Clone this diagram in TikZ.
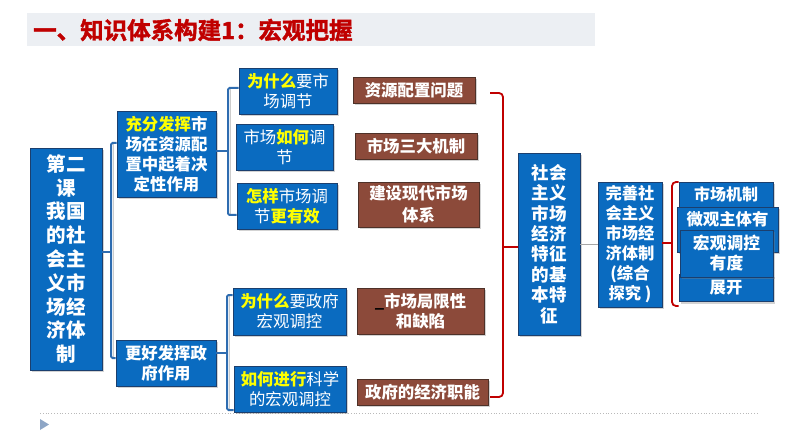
\documentclass[tikz,border=0pt]{standalone}
\usepackage{fontspec}
\usetikzlibrary{shadows}
\newfontfamily\cjk{Noto Sans CJK SC}
\newfontfamily\titlefont[FakeBold=1.6]{Noto Sans CJK SC Bold}
\definecolor{boxblue}{HTML}{0A6BC0}
\definecolor{boxline}{HTML}{1B3F6E}
\definecolor{boxbrown}{HTML}{8C4A3A}
\definecolor{brownline}{HTML}{4E3128}
\definecolor{linkblue}{HTML}{2E6CB0}
\definecolor{linkred}{HTML}{C00000}
\definecolor{hiyellow}{HTML}{FFFF00}
\definecolor{titlered}{HTML}{C00000}
\definecolor{titlebar}{HTML}{ECEFF3}
\definecolor{navtri}{HTML}{8EA6C6}
\newcommand{\hiword}[1]{{\bfseries\color{hiyellow}#1}}
\newcommand{\boxfont}[2]{\cjk\fontsize{#1}{#2}\selectfont}

\begin{document}
\begin{tikzpicture}[x=1pt, y=-1pt,
    sized/.style 2 args={minimum width=#1, minimum height=#2},
    bluebox/.style={fill=boxblue, draw=boxline, line width=0.8pt, text=white,
        align=center, inner sep=0pt,
        drop shadow={shadow xshift=2pt, shadow yshift=-2pt, opacity=0.35}},
    brownbox/.style={bluebox, fill=boxbrown, draw=brownline},
    blink/.style={linkblue, line width=2pt, rounded corners=1.5pt},
    blinkshade/.style={gray!40, line width=1.6pt},
    rlink/.style={linkred, line width=1.8pt, rounded corners=4pt}]
    \useasboundingbox (0,0) rectangle (794,446);

    % title
    \fill[titlebar] (27,13) rectangle (595,46);
    \node[anchor=west, inner sep=0pt, text=titlered,
        font=\titlefont\fontsize{23.5}{23.5}\selectfont] (title) at (33,30) {一、知识体系构建1：宏观把握};
    \draw[gray!55, dotted, line width=0.8pt] (40,413) -- (758,413);
    \fill[navtri] (40,419) -- (49,424.5) -- (40,430) -- cycle;

    % left part
    \node[bluebox, sized={72}{222}, font=\boxfont{19.5}{23.8}\bfseries] (ke) at (66,259)
        {第二\\课\\我国\\的社\\会主\\义市\\场经\\济体\\制};
    \node[bluebox, sized={99}{86}, font=\boxfont{16.4}{20}\bfseries] (fa) at (166.5,154)
        {\hiword{充分发挥}市\\场在资源配\\置中起着决\\定性作用};
    \node[bluebox, sized={100}{46}, font=\boxfont{16.4}{20}\bfseries] (gv) at (166,363)
        {更好发挥政\\府作用};

    \node[bluebox, sized={98}{46}, font=\boxfont{16.4}{20}] (wm) at (288,91)
        {\hiword{为什么}要市\\场调节};
    \node[bluebox, sized={97}{46}, font=\boxfont{16.4}{20}] (rh) at (284.5,147)
        {市场\hiword{如何}调\\节};
    \node[bluebox, sized={100}{46}, font=\boxfont{16.4}{20}] (zy) at (287,206)
        {\hiword{怎样}市场调\\节\hiword{更有效}};
    \node[bluebox, sized={113}{47}, font=\boxfont{16.4}{20}] (wz) at (289.5,311.5)
        {\hiword{为什么}要政府\\宏观调控};
    \node[bluebox, sized={112}{46}, font=\boxfont{16.4}{20}] (rj) at (290,389)
        {\hiword{如何进行}科学\\的宏观调控};

    % brown column
    \node[brownbox, sized={122}{26}, font=\boxfont{16.4}{20}\bfseries] (p1) at (414,90) {资源配置问题};
    \node[brownbox, sized={122}{26}, font=\boxfont{16.4}{20}\bfseries] (p2) at (416,146) {市场三大机制};
    \node[brownbox, sized={121}{45}, font=\boxfont{16.4}{22}\bfseries] (p3) at (418.5,204.5)
        {建设现代市场\\体系};
    \node[brownbox, sized={127}{46}, font=\boxfont{16.4}{20}\bfseries] (p4) at (420.5,311)
        {{\color{black}\_}市场局限性\\和缺陷};
    \node[brownbox, sized={131}{26}, font=\boxfont{16.4}{20}\bfseries] (p5) at (422.5,392) {政府的经济职能};

    % right part
    \node[bluebox, sized={62}{182}, font=\boxfont{17.5}{20.4}\bfseries] (tz) at (549,244)
        {社会\\主义\\市场\\经济\\特征\\的基\\本特\\征};
    \node[bluebox, sized={64}{125}, font=\boxfont{16.3}{20}\bfseries] (ws) at (630,244.5)
        {完善社\\会主义\\市场经\\济体制\\(综合\\探究 )};
    \node[bluebox, sized={94}{27}, font=\boxfont{16.4}{20}\bfseries] (r4) at (726,288) {展开};
    \node[bluebox, sized={94}{25}, font=\boxfont{16}{20}\bfseries] (r1) at (726,194.5) {市场机制};
    \node[bluebox, sized={101}{45}, font=\boxfont{16.4}{20}\bfseries] (r2) at (727.5,229.5)
        {微观主体有\\\phantom{有}};
    \node[bluebox, sized={93}{47}, font=\boxfont{16.8}{20}\bfseries] (r3) at (726.5,253.5)
        {宏观调控\\有度};

    % blue brackets
    \coordinate (b1t) at (111,143);
    \coordinate (b1m) at (111,252);
    \coordinate (b1b) at (111,358);
    \coordinate (b2t) at (228,88);
    \coordinate (b2m) at (228,151);
    \coordinate (b2b) at (228,215);
    \coordinate (b3t) at (227,295);
    \coordinate (b3m) at (227,353);
    \coordinate (b3b) at (227,410);
    \foreach \t/\b in {b1t/b1b, b2t/b2b, b3t/b3b}
        \draw[blinkshade] ([xshift=2.5pt]\t) -- ([xshift=2.5pt]\b);
    \draw[blink] (b1t -| fa.west) -- (b1t) -- (b1b) -- (b1b -| gv.west);
    \draw[blink] (b1m) -- (b1m -| ke.east);
    \draw[blink] (b2t -| wm.west) -- (b2t) -- (b2b) -- (b2b -| zy.west);
    \draw[blink] (b2m) -- (b2m -| fa.east);
    \draw[blink] (b3t -| wz.west) -- (b3t) -- (b3b) -- (b3b -| rj.west);
    \draw[blink] (b3m) -- (b3m -| gv.east);

    % red brackets
    \coordinate (k1) at (490,93);
    \coordinate (k2) at (490,397);
    \coordinate (c1t) at (503,93);
    \coordinate (c1m) at (503,247);
    \coordinate (c1b) at (503,397);
    \draw[rlink] (k1) -- (c1t) -- (c1b) -- (k2);
    \draw[rlink] (c1m) -- (c1m -| tz.west);
    \coordinate (c2t) at (672,182);
    \coordinate (c2m) at (672,243);
    \coordinate (c2b) at (672,306);
    \draw[rlink] (c2t -| r1.west) -- (c2t) -- (c2b) -- (c2b -| r4.west);
    \draw[rlink] (c2m) -- (c2m -| ws.east);
    \draw[gray!70, line width=1pt] (tz.east) -- (tz.east -| ws.west);
\end{tikzpicture}
\end{document}
